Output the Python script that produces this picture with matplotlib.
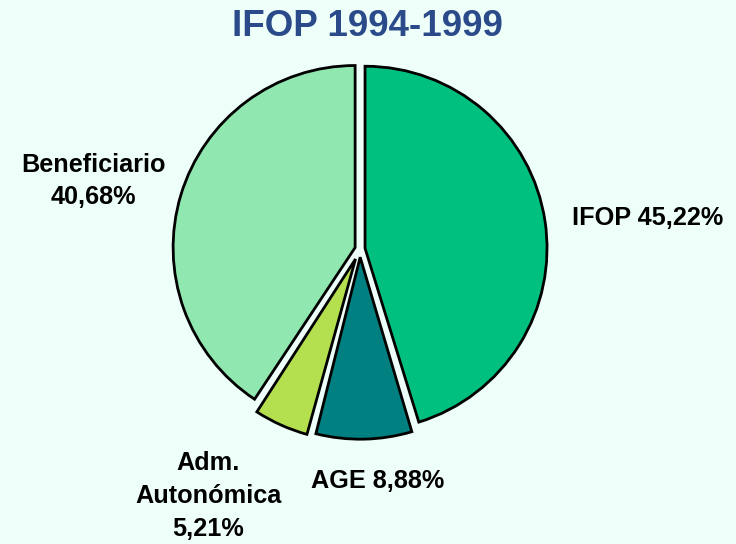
import matplotlib
matplotlib.use("Agg")
import matplotlib.pyplot as plt

categories = ["IFOP", "AGE", "Adm.\nAutonómica", "Beneficiario"]
values = [45.22, 8.88, 5.21, 40.68]
value_labels = ["45,22%", "8,88%", "5,21%", "40,68%"]
colors = ["#00C080", "#008080", "#B4E050", "#90E8B0"]
explode = [0.028, 0.045, 0.06, 0.028]
# small angular trim (degrees) on each side of the narrow slices, for visible gaps
trim = [0.0, 0.7, 0.7, 0.0]
title = "IFOP 1994-1999"

bg = "#EEFFFA"
W, H = 736, 544
fig = plt.figure(figsize=(W / 100, H / 100), dpi=100, facecolor=bg)

r_px = 182
cx, cy = 360, 249
ax = fig.add_axes([0, 0, 1, 1])
ax.set_facecolor(bg)
ax.axis("off")

wedges, _ = ax.pie(values, colors=colors, startangle=90, counterclock=False,
                   explode=explode, radius=1, center=(0, 0),
                   wedgeprops=dict(edgecolor="black", linewidth=2.0))
for w, t in zip(wedges, trim):
    if t:
        t1, t2 = w.theta1, w.theta2
        w.set_theta1(t1 + t)
        w.set_theta2(t2 - t)
ax.set_aspect("equal", adjustable="datalim")
ax.set_xlim(-cx / r_px, (W - cx) / r_px)
ax.set_ylim(-(H - cy) / r_px, cy / r_px)

def px(x, y):
    return ((x - cx) / r_px, (cy - y) / r_px)

fs = 18.2
font = dict(fontsize=fs, fontweight="bold", family=["Liberation Sans", "DejaVu Sans"],
            color="black", ha="center", va="center", linespacing=1.45)
ax.text(*px(648, 218), f"{categories[0]} {value_labels[0]}", **font)
ax.text(*px(378, 481), f"{categories[1]} {value_labels[1]}", **font)
ax.text(*px(208, 496), f"{categories[2]}\n{value_labels[2]}", **font)
ax.text(*px(93, 181), f"{categories[3]}\n{value_labels[3]}", **font)

fig.text(367 / W, 1 - 27 / H, title, fontsize=26.5, fontweight="bold",
         family=["Liberation Sans", "DejaVu Sans"], color="#2A4A8A",
         ha="center", va="center")

fig.savefig("out.png", dpi=100, facecolor=bg)
